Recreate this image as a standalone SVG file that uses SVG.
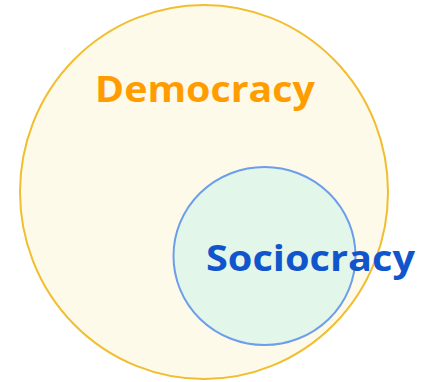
<svg xmlns="http://www.w3.org/2000/svg" width="424" height="382" viewBox="0 0 424 382">
<style>
.lbl{font-family:"Open Sans","Liberation Sans",sans-serif;font-weight:700;font-size:36px}
</style>
<rect width="424" height="382" fill="#ffffff"/>
<g id="democracy">
<ellipse cx="204" cy="192" rx="184" ry="187" fill="#fefaea" stroke="#f1be2f" stroke-width="2"/>
<text class="lbl" x="95" y="102" fill="#ff9d00" textLength="220" lengthAdjust="spacingAndGlyphs">Democracy</text>
</g>
<g id="sociocracy">
<ellipse cx="264.5" cy="256" rx="91" ry="89" fill="#e3f6ea" stroke="#6d9eeb" stroke-width="2"/>
<text class="lbl" x="206" y="271" fill="#1155cc" textLength="209" lengthAdjust="spacingAndGlyphs">Sociocracy</text>
</g>
<g id="connectors"/>
</svg>
